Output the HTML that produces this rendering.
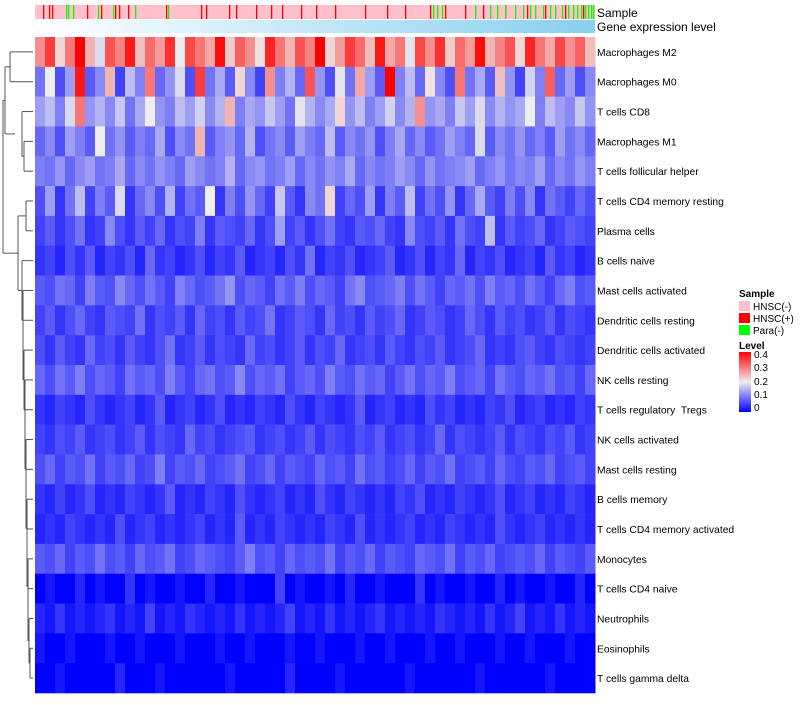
<!DOCTYPE html>
<html><head><meta charset="utf-8"><style>
body{margin:0;background:#fff;}
svg text{font-family:"Liberation Sans",sans-serif;}
</style></head><body>
<svg id="chart" width="800" height="700" xmlns="http://www.w3.org/2000/svg">
<defs>
<linearGradient id="geneGrad" x1="0" x2="1"><stop offset="0" stop-color="#ffffff"/><stop offset="1" stop-color="#87cfee"/></linearGradient>
<linearGradient id="levelGrad" x1="0" x2="0" y1="1" y2="0"><stop offset="0" stop-color="#0000ff"/><stop offset="0.5" stop-color="#eeeeee"/><stop offset="1" stop-color="#ff0000"/></linearGradient>
</defs>
<g id="heat"></g>
<g id="dend"></g>
<g id="labels"></g>
<rect x="35" y="20" width="560" height="13" fill="url(#geneGrad)"/>
<g id="sample"></g>
<text x="597" y="17" font-size="12">Sample</text>
<text x="597" y="31" font-size="12">Gene expression level</text>
<g>
<text x="739" y="297" font-size="10" font-weight="bold">Sample</text>
<rect x="739" y="301" width="11" height="10" fill="#ffc0cb"/>
<text x="753" y="310" font-size="10">HNSC(-)</text>
<rect x="739" y="313" width="11" height="10" fill="#ff0000"/>
<text x="753" y="322" font-size="10">HNSC(+)</text>
<rect x="739" y="325" width="11" height="10" fill="#00ff00"/>
<text x="753" y="334" font-size="10">Para(-)</text>
<text x="739" y="349" font-size="10" font-weight="bold">Level</text>
<rect x="739" y="352" width="12" height="60" fill="url(#levelGrad)"/>
<g font-size="10">
<text x="754" y="358">0.4</text><text x="754" y="371">0.3</text><text x="754" y="385">0.2</text><text x="754" y="398">0.1</text><text x="754" y="411">0</text>
</g>
</g>
</svg>
<script>
const rowNames=["Macrophages M2","Macrophages M0","T cells CD8","Macrophages M1","T cells follicular helper","T cells CD4 memory resting","Plasma cells","B cells naive","Mast cells activated","Dendritic cells resting","Dendritic cells activated","NK cells resting","T cells regulatory\u00a0\u00a0Tregs","NK cells activated","Mast cells resting","B cells memory","T cells CD4 memory activated","Monocytes","T cells CD4 naive","Neutrophils","Eosinophils","T cells gamma delta"];
const rowM2=[28,35,22,30,40,25,18,33,29,38,24,31,27,36,20,34,30,26,39,23,32,28,21,37,30,25,33,29,40,22,27,35,31,24,38,26,30,19,34,28,36,23,31,27,39,25,29,33,22,37,30,26,34,28,32,24];
const rowM0=[8,20,5,12,38,6,10,25,4,15,9,30,7,11,18,5,35,8,13,6,22,10,4,28,9,14,7,33,11,5,19,8,26,12,6,40,9,15,7,21,10,5,30,8,13,6,24,11,4,17,9,32,7,12,5,10];
const rowCD8=[12,15,9,18,30,11,14,10,16,8,13,20,11,9,15,12,17,10,14,25,9,13,11,16,12,8,19,14,10,13,22,11,15,9,12,17,10,14,28,11,13,9,16,12,18,10,14,11,13,20,9,15,12,10,16,11];
const rowM1=[7,10,5,12,9,6,20,8,11,6,9,7,13,5,10,8,25,6,9,11,7,14,5,8,10,6,12,9,7,15,6,10,8,11,5,9,13,7,10,6,8,12,9,7,18,6,10,8,11,7,9,6,12,8,10,7];
const rowTfh=[9,8,11,7,10,12,8,9,13,7,10,8,11,9,7,12,10,8,9,14,7,10,11,8,9,12,7,10,8,11,9,13,7,10,8,9,12,10,7,11,8,9,10,12,7,9,11,8,10,9,12,7,10,8,11,9];
const rowCD4mr=[5,12,3,8,15,4,9,6,18,3,7,10,5,14,4,8,6,20,3,9,5,11,7,4,16,6,3,10,8,22,4,7,5,12,3,9,6,15,4,8,5,11,3,7,13,6,4,9,5,10,3,8,6,4,7,5];
const rowPlasma=[4,6,3,5,8,3,4,10,5,3,6,4,7,3,5,4,9,3,6,5,4,7,3,5,12,4,6,3,5,8,4,3,6,5,7,4,3,10,5,4,6,3,8,5,4,15,3,6,4,5,7,3,4,6,5,4];
const rowBn=[3,4,2,5,3,6,2,4,3,5,2,7,3,4,2,3,5,2,4,3,6,2,3,4,2,5,3,8,2,4,3,5,2,3,4,6,2,3,5,2,4,3,7,2,4,3,5,2,3,4,2,6,3,4,2,3];
const rowMastA=[6,5,8,7,4,9,6,5,10,7,5,8,6,4,9,7,5,6,8,11,5,7,6,4,8,6,9,5,7,6,4,8,10,5,6,7,9,5,8,6,4,7,6,8,5,9,6,7,5,8,6,4,7,9,5,6];
const rowDCr=[4,6,3,5,7,4,3,6,5,4,8,3,5,4,6,3,7,4,5,3,6,4,5,8,3,4,6,5,3,7,4,5,3,6,4,5,7,3,4,6,5,3,4,7,5,3,6,4,5,3,4,6,3,5,4,3];
const rowDCa=[5,3,6,4,3,7,4,5,3,6,4,3,5,8,3,4,6,3,5,4,3,7,4,5,3,4,6,3,5,4,7,3,4,5,3,6,4,3,5,4,6,3,4,5,7,3,4,3,5,6,4,3,5,4,3,4];
const rowNKr=[7,5,8,6,9,5,7,6,4,8,6,7,5,9,6,4,7,8,5,6,10,5,7,6,8,4,6,7,5,9,6,5,8,6,7,4,6,8,5,7,6,9,5,6,7,4,8,6,5,7,6,8,5,6,4,7];
const rowTreg=[3,2,4,3,2,5,3,2,3,4,2,3,6,2,3,4,2,3,5,2,3,2,4,3,2,5,3,2,4,3,2,3,6,2,3,4,2,3,2,5,3,4,2,3,2,4,3,5,2,3,4,2,3,2,4,3];
const rowNKa=[4,3,5,4,6,3,4,5,3,4,6,3,5,4,3,7,4,5,3,4,5,6,3,4,5,3,4,6,3,5,4,3,5,4,6,3,4,5,3,4,7,3,5,4,3,4,6,3,5,4,3,5,4,6,3,4];
const rowMastR=[5,7,4,6,5,8,4,6,5,7,4,5,9,4,6,5,7,4,5,6,8,4,5,7,4,6,5,4,7,5,6,4,8,5,6,4,5,7,4,6,5,8,4,5,6,4,7,5,4,6,5,7,4,5,6,4];
const rowBm=[3,2,4,2,3,5,2,3,2,4,3,2,3,6,2,3,2,4,3,2,5,3,2,3,4,2,3,2,5,3,2,4,3,2,3,2,4,3,5,2,3,2,4,3,2,3,5,2,3,4,2,3,2,4,3,2];
const rowCD4ma=[2,3,2,4,3,2,3,2,5,2,3,4,2,3,2,3,4,2,3,2,6,2,3,2,4,3,2,3,2,4,3,2,5,2,3,2,3,4,2,3,2,4,3,2,3,2,5,3,2,3,4,2,3,2,3,2];
const rowMono=[6,5,7,4,6,5,8,5,6,4,7,5,6,8,4,5,7,6,5,4,6,9,5,6,4,7,5,6,5,8,4,6,5,7,4,6,5,4,7,6,5,8,4,6,5,7,4,5,6,5,7,4,6,5,4,6];
const rowCD4n=[0,1,0,0,2,0,1,0,0,3,0,1,0,0,1,0,0,2,0,0,1,0,0,0,4,0,1,0,0,1,0,2,0,0,1,0,0,0,3,0,1,0,0,1,0,0,2,0,1,0,0,1,0,0,2,0];
const rowNeut=[2,1,3,1,2,1,2,3,1,2,1,4,1,2,1,3,2,1,2,1,3,1,2,1,2,4,1,2,1,3,1,2,1,2,3,1,2,1,2,1,3,2,1,2,1,3,1,2,4,1,2,1,3,1,2,1];
const rowEos=[1,0,0,1,0,0,0,1,0,0,1,0,0,0,1,0,0,0,1,0,0,1,0,0,0,1,0,0,1,0,0,0,1,0,0,1,0,0,0,1,0,0,1,0,0,0,1,0,0,1,0,0,0,1,0,0];
const rowGd=[0,0,1,0,0,0,0,0,2,0,0,0,1,0,0,0,0,0,0,1,0,0,0,0,0,2,0,0,0,0,1,0,0,0,0,0,0,1,0,0,0,0,0,0,1,0,0,0,0,0,0,1,0,0,0,0];
const rows=[rowM2,rowM0,rowCD8,rowM1,rowTfh,rowCD4mr,rowPlasma,rowBn,rowMastA,rowDCr,rowDCa,rowNKr,rowTreg,rowNKa,rowMastR,rowBm,rowCD4ma,rowMono,rowCD4n,rowNeut,rowEos,rowGd];
const sampleCount=560;
const redSamples=[8,14,17,52,66,80,84,93,131,166,171,194,201,221,236,247,266,281,300,330,352,370,395,410,430,448,470,492,510,530,548];
const greenSamples=[31,33,38,63,78,100,133,398,402,407,440,455,462,470,480,488,495,500,508,515,520,527,533,538,542,546,550,553,556,558];
const X0=35,W=560,Y0=37,H=656;
const NS="http://www.w3.org/2000/svg";
const rh=H/rows.length;
const xs=(i,n)=>X0+i*W/n;
const ys=r=>Y0+r*rh;
function col(v){v=Math.max(0,Math.min(0.4,v));let a,b,t;
 if(v<0.2){t=Math.pow(v/0.2,0.8);a=[0,0,255];b=[238,238,238];}else{t=(v-0.2)/0.2;a=[238,238,238];b=[255,0,0];}
 return `rgb(${Math.round(a[0]+(b[0]-a[0])*t)},${Math.round(a[1]+(b[1]-a[1])*t)},${Math.round(a[2]+(b[2]-a[2])*t)})`;}
const heat=document.getElementById('heat');
rows.forEach((arr,r)=>{arr.forEach((v,i)=>{const e=document.createElementNS(NS,'rect');
 e.setAttribute('x',xs(i,arr.length));e.setAttribute('y',ys(r));
 e.setAttribute('width',W/arr.length+0.5);e.setAttribute('height',rh+0.3);
 e.setAttribute('fill',col(v/100));
 
 
 heat.appendChild(e);});});
const lab=document.getElementById('labels');
rowNames.forEach((n,r)=>{const t=document.createElementNS(NS,'text');
 t.setAttribute('x',597);t.setAttribute('y',ys(r)+rh/2+4);t.setAttribute('font-size','10.3');t.textContent=n;
 
 
 lab.appendChild(t);});
const sg=document.getElementById('sample');
const bg=document.createElementNS(NS,'rect');bg.setAttribute('x',X0);bg.setAttribute('y',5);bg.setAttribute('width',W);bg.setAttribute('height',14);bg.setAttribute('fill','#ffc0cb');


sg.appendChild(bg);
[[redSamples,'#ff0000','sample-hnsc-pos'],[greenSamples,'#00ff00','sample-para-neg']].forEach(([arr,c,nm])=>arr.forEach(s=>{const e=document.createElementNS(NS,'rect');
 e.setAttribute('x',xs(s,sampleCount));e.setAttribute('y',5);e.setAttribute('width',1.3);e.setAttribute('height',14);e.setAttribute('fill',c);
 
 
 sg.appendChild(e);}));
const d=document.getElementById('dend');
function ln(x1,y1,x2,y2){const e=document.createElementNS(NS,'path');e.setAttribute('d',`M${x1},${y1}L${x2},${y2}`);e.setAttribute('stroke','#555');e.setAttribute('fill','none');
 
 
 d.appendChild(e);}
function node(ya,xa,yb,xb,xm){ln(xa,ya,xm,ya);ln(xb,yb,xm,yb);ln(xm,ya,xm,yb);return (ya+yb)/2;}
const cy=r=>ys(r)+rh/2,L=33;
const a=node(cy(0),L,cy(1),L,10);
const b1=node(cy(3),L,cy(4),L,24);
const b=node(cy(2),L,b1,24,22);
const ab=node(a,10,b,15,5);
let yy=cy(21),xx=L;
const depths=[33,32,31,31,30,30,29,29,28,28,27,27,27,26,26,25];
for(let r=20;r>=7;r--){const nx=depths[20-r]-3+ (r<10?-1:0);yy=node(cy(r),L,yy,xx,nx);xx=nx;}
const c5=node(cy(5),L,cy(6),L,26);
const c=node(c5,26,yy,xx,18);
node(ab,5,c,18,3);
</script>
</body></html>
